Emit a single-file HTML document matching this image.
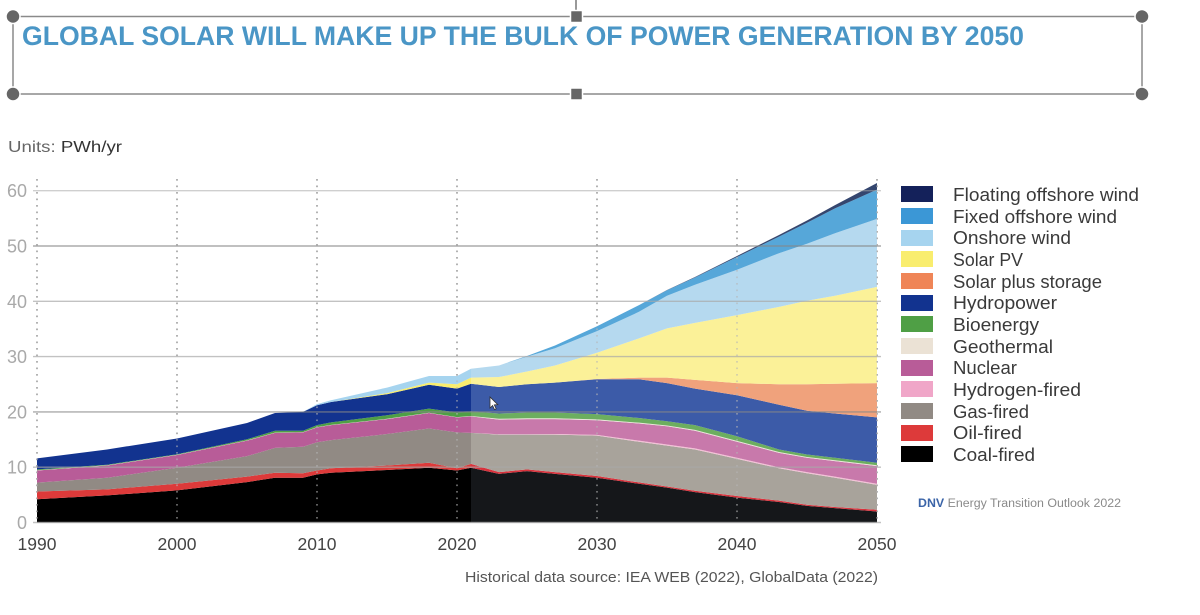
<!DOCTYPE html>
<html lang="en">
<head>
<meta charset="utf-8">
<title>Global solar power generation by 2050</title>
<style>
html,body{margin:0;padding:0;background:#fff;}
body{width:1200px;height:615px;overflow:hidden;}
svg{display:block;font-family:"Liberation Sans",sans-serif;}
</style>
</head>
<body>
<svg id="chart" width="1200" height="615" viewBox="0 0 1200 615" xmlns="http://www.w3.org/2000/svg">
  <rect width="1200" height="615" fill="#fff"/>

  <g>
    <line x1="576" y1="0" x2="576" y2="16" stroke="#777" stroke-width="1.5"/>
    <rect x="13" y="16.5" width="1129" height="77.5" fill="none" stroke="#8a8a8a" stroke-width="1.5"/>
    <circle cx="13" cy="16.5" r="7" fill="#666" stroke="#fff" stroke-width="1.5"/>
    <circle cx="1142" cy="16.5" r="7" fill="#666" stroke="#fff" stroke-width="1.5"/>
    <circle cx="13" cy="94" r="7" fill="#666" stroke="#fff" stroke-width="1.5"/>
    <circle cx="1142" cy="94" r="7" fill="#666" stroke="#fff" stroke-width="1.5"/>
    <rect x="570.5" y="10.5" width="12" height="12" rx="1" fill="#666" stroke="#fff" stroke-width="1.5"/>
    <rect x="570.5" y="88" width="12" height="12" rx="1" fill="#666" stroke="#fff" stroke-width="1.5"/>
  </g>
  <text x="22" y="45" font-size="27" font-weight="700" fill="#4a96c6" textLength="1002" lengthAdjust="spacingAndGlyphs">GLOBAL SOLAR WILL MAKE UP THE BULK OF POWER GENERATION BY 2050</text>

  <text x="8" y="152" font-size="16" fill="#333" textLength="114" lengthAdjust="spacingAndGlyphs"><tspan fill="#666">Units:</tspan> PWh/yr</text>

  <g id="plot"></g>

  <g font-size="18" fill="#3a3a3a">
    <g><rect x="901" y="186" width="32" height="16" fill="#14215a"/><text x="953" y="201" textLength="186" lengthAdjust="spacingAndGlyphs">Floating offshore wind</text></g>
    <g><rect x="901" y="208" width="32" height="16" fill="#3b97d6"/><text x="953" y="223" textLength="164" lengthAdjust="spacingAndGlyphs">Fixed offshore wind</text></g>
    <g><rect x="901" y="230" width="32" height="16" fill="#a6d4ef"/><text x="953" y="244" textLength="118" lengthAdjust="spacingAndGlyphs">Onshore wind</text></g>
    <g><rect x="901" y="251" width="32" height="16" fill="#f9ed6e"/><text x="953" y="266" textLength="70" lengthAdjust="spacingAndGlyphs">Solar PV</text></g>
    <g><rect x="901" y="273" width="32" height="16" fill="#ef8557"/><text x="953" y="288" textLength="149" lengthAdjust="spacingAndGlyphs">Solar plus storage</text></g>
    <g><rect x="901" y="295" width="32" height="16" fill="#12338f"/><text x="953" y="309" textLength="104" lengthAdjust="spacingAndGlyphs">Hydropower</text></g>
    <g><rect x="901" y="316" width="32" height="16" fill="#4f9f45"/><text x="953" y="331" textLength="86" lengthAdjust="spacingAndGlyphs">Bioenergy</text></g>
    <g><rect x="901" y="338" width="32" height="16" fill="#ebe2d5"/><text x="953" y="353" textLength="100" lengthAdjust="spacingAndGlyphs">Geothermal</text></g>
    <g><rect x="901" y="360" width="32" height="16" fill="#b85c98"/><text x="953" y="374" textLength="64" lengthAdjust="spacingAndGlyphs">Nuclear</text></g>
    <g><rect x="901" y="381" width="32" height="16" fill="#f0a6c8"/><text x="953" y="396" textLength="128" lengthAdjust="spacingAndGlyphs">Hydrogen-fired</text></g>
    <g><rect x="901" y="403" width="32" height="16" fill="#918a84"/><text x="953" y="418" textLength="76" lengthAdjust="spacingAndGlyphs">Gas-fired</text></g>
    <g><rect x="901" y="425" width="32" height="16" fill="#dd3a3a"/><text x="953" y="439" textLength="69" lengthAdjust="spacingAndGlyphs">Oil-fired</text></g>
    <g><rect x="901" y="446" width="32" height="16" fill="#000"/><text x="953" y="461" textLength="82" lengthAdjust="spacingAndGlyphs">Coal-fired</text></g>
  </g>

  <text x="918" y="507" font-size="11.5" fill="#8a8a8a" textLength="203" lengthAdjust="spacingAndGlyphs"><tspan font-weight="700" fill="#3b64a8">DNV</tspan> Energy Transition Outlook 2022</text>
  <text x="465" y="582" font-size="15" fill="#555" textLength="413" lengthAdjust="spacingAndGlyphs">Historical data source: IEA WEB (2022), GlobalData (2022)</text>

  <path d="M490 397 v11 l2.6-2.4 1.9 4 1.7-.8-1.9-3.9 3.5-.2z" fill="#fff" stroke="#333" stroke-width=".8"/>
</svg>

<script>
const years = [1990,1995,2000,2005,2007,2009,2010,2011,2015,2018,2020,2021,2023,2025,2027,2030,2033,2035,2037,2040,2043,2045,2047,2050];
const xTickLabels = [1990,2000,2010,2020,2030,2040,2050];
const yTickLabels = [0,10,20,30,40,50,60];

const coalFired     = [4.2,4.9,5.8,7.3,8.1,8.1,8.7,9.0,9.5,9.9,9.4,9.9,8.8,9.3,8.8,8.1,7.0,6.3,5.5,4.5,3.7,3.0,2.6,2.0];
const oilFired      = [1.4,1.1,1.2,1.0,0.9,0.8,0.7,0.8,0.8,0.9,0.4,0.7,0.3,0.3,0.3,0.3,0.25,0.2,0.25,0.3,0.25,0.2,0.2,0.3];
const gasFired      = [1.6,2.1,2.9,3.7,4.5,4.8,5.1,5.1,5.7,6.2,6.5,5.6,6.8,6.3,6.8,7.3,7.35,7.4,7.45,6.7,5.85,5.7,5.3,4.5];
const hydrogenFired = [0,0,0,0,0,0,0,0,0,0,0,0,0.05,0.05,0.1,0.15,0.2,0.2,0.2,0.2,0.2,0.2,0.2,0.2];
const nuclear       = [2.2,2.2,2.3,2.8,2.7,2.6,2.7,2.7,2.7,2.8,2.7,3.0,2.65,2.75,2.7,2.65,3.1,3.3,3.2,2.9,2.6,2.6,2.8,3.2];
const geothermal    = [0.05,0.05,0.05,0.05,0.05,0.05,0.05,0.05,0.05,0.05,0.05,0.05,0.15,0.15,0.15,0.15,0.15,0.15,0.15,0.15,0.15,0.15,0.15,0.15];
const bioenergy     = [0.15,0.1,0.1,0.2,0.35,0.25,0.35,0.45,0.65,0.75,0.85,0.85,0.95,1.05,1.05,0.95,0.85,0.75,0.85,0.85,0.45,0.45,0.45,0.45];
const hydropower    = [2.0,2.75,2.85,2.95,3.2,3.4,3.6,3.7,3.8,4.3,4.3,5.0,4.8,5.1,5.4,6.3,7.0,6.9,6.6,7.4,8.1,7.9,8.0,8.2];
const solarStorage  = [0,0,0,0,0,0,0,0,0,0,0,0,0,0,0,0.05,0.3,1.0,1.6,2.2,3.7,4.8,5.4,6.2];
const solarPV       = [0,0,0,0,0,0,0,0,0.2,0.4,0.8,1.1,1.8,2.3,3.1,4.75,7.1,8.9,10.3,12.3,14.0,15.1,15.9,17.4];
const onshoreWind   = [0,0,0,0,0,0,0.2,0.3,1.0,1.2,1.5,1.6,2.1,2.7,3.1,3.9,4.8,5.9,6.9,8.2,9.7,10.3,11.3,12.3];
const fixedOffshore = [0,0,0,0,0,0,0,0,0,0,0,0,0,0.1,0.5,0.9,1.2,1.0,1.3,2.3,3.0,3.8,4.5,5.3];
const floatOffshore = [0,0,0,0,0,0,0,0,0,0,0,0,0,0,0,0,0,0.05,0.1,0.2,0.3,0.4,0.6,1.2];

const seriesNames = ['coal-fired','oil-fired','gas-fired','hydrogen-fired','nuclear','geothermal','bioenergy','hydropower','solar-plus-storage','solar-pv','onshore-wind','fixed-offshore-wind','floating-offshore-wind'];
const seriesValues = [coalFired,oilFired,gasFired,hydrogenFired,nuclear,geothermal,bioenergy,hydropower,solarStorage,solarPV,onshoreWind,fixedOffshore,floatOffshore];
const historicColors = ['#000000','#dd3a3a','#918a84','#f0a6c8','#b85c98','#ebe2d5','#4f9f45','#12338f','#ef8557','#f9ed6e','#a6d4ef','#3b97d6','#14215a'];
const forecastColors = ['#15171a','#d9323c','#a8a39b','#f4c0d6','#c879ab','#ece5da','#6cae5f','#3c5ba8','#f0a27c','#fbf198','#b5d9ef','#56a7d9','#34466f'];
const forecastStartYear = 2021;

const NS = 'http://www.w3.org/2000/svg';
const plot = document.getElementById('plot');
const xScale = function (year) { return 37 + (year - 1990) * 14; };
const yScale = function (value) { return 522.5 - value * 5.53; };

function make(tag, attrs, parent) {
  const el = document.createElementNS(NS, tag);
  for (const k in attrs) el.setAttribute(k, attrs[k]);
  parent.appendChild(el);
  return el;
}

// vertical dotted decade lines behind the areas
xTickLabels.forEach(function (yr) {
  const line = make('line', {x1: xScale(yr), x2: xScale(yr), y1: 179, y2: 522, stroke: '#8f8f8f', 'stroke-width': 1.6, 'stroke-dasharray': '1.6 4.9'}, plot);
  
  
});

// clip regions for historic / forecast shading
const defs = make('defs', {}, plot);
const clipHist = make('clipPath', {id: 'clip-historic'}, defs);
make('rect', {x: 0, y: 0, width: xScale(forecastStartYear), height: 615}, clipHist);
const clipFore = make('clipPath', {id: 'clip-forecast'}, defs);
make('rect', {x: xScale(forecastStartYear), y: 0, width: 1200, height: 615}, clipFore);

// stacked areas
const base = years.map(function () { return 0; });
seriesValues.forEach(function (vals, i) {
  const tops = vals.map(function (v, j) { return base[j] + v; });
  let d = '';
  years.forEach(function (yr, j) {
    d += (j ? 'L' : 'M') + xScale(yr).toFixed(1) + ' ' + yScale(tops[j]).toFixed(2);
  });
  for (let j = years.length - 1; j >= 0; j--) {
    d += 'L' + xScale(years[j]).toFixed(1) + ' ' + yScale(base[j]).toFixed(2);
  }
  d += 'Z';
  const hist = make('path', {d: d, fill: historicColors[i], 'clip-path': 'url(#clip-historic)'}, plot);
  
  
  const fore = make('path', {d: d, fill: forecastColors[i], 'clip-path': 'url(#clip-forecast)'}, plot);
  
  
  tops.forEach(function (t, j) { base[j] = t; });
});

// horizontal gridlines, translucent over the areas
yTickLabels.forEach(function (v) {
  const strong = (v === 20 || v === 50);
  const line = make('line', {x1: 33, x2: 881, y1: yScale(v), y2: yScale(v), stroke: strong ? '#888' : '#a8a8a8', 'stroke-opacity': v === 60 ? 0.55 : 0.7, 'stroke-width': 1.4}, plot);
  
  
  const label = make('text', {x: 27, y: yScale(v) + 6.5, 'text-anchor': 'end', 'font-size': 18, fill: '#a9a9a9'}, plot);
  label.textContent = v;
  
  
});

// dotted decade lines visible faintly through the areas
xTickLabels.forEach(function (yr) {
  const line = make('line', {x1: xScale(yr), x2: xScale(yr), y1: 179, y2: 522, stroke: '#b5b5b5', 'stroke-opacity': 0.75, 'stroke-width': 1.4, 'stroke-dasharray': '1.6 4.9'}, plot);
  
  
  const label = make('text', {x: xScale(yr), y: 550, 'text-anchor': 'middle', 'font-size': 17.5, fill: '#444'}, plot);
  label.textContent = yr;
  
  
});
</script>
</body>
</html>
